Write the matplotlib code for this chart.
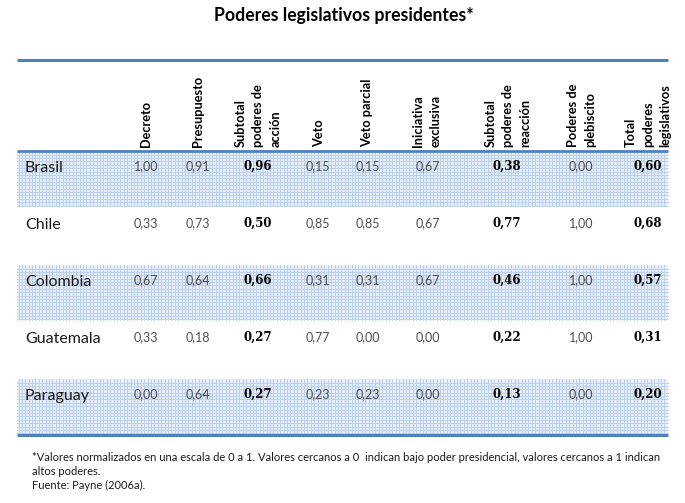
import matplotlib
matplotlib.use("Agg")
import matplotlib.pyplot as plt
from matplotlib.patches import Rectangle
import numpy as np

title = "Poderes legislativos presidentes*"
countries = ["Brasil", "Chile", "Colombia", "Guatemala", "Paraguay"]
headers = ["Decreto", "Presupuesto", "Subtotal\npoderes de\nacción", "Veto",
           "Veto parcial", "Iniciativa\nexclusiva", "Subtotal\npoderes de\nreacción",
           "Poderes de\nplebiscito", "Total\npoderes\nlegislativos"]
decreto = [1.00, 0.33, 0.67, 0.33, 0.00]
presupuesto = [0.91, 0.73, 0.64, 0.18, 0.64]
subtotal_accion = [0.96, 0.50, 0.66, 0.27, 0.27]
veto = [0.15, 0.85, 0.31, 0.77, 0.23]
veto_parcial = [0.15, 0.85, 0.31, 0.00, 0.23]
iniciativa = [0.67, 0.67, 0.67, 0.00, 0.00]
subtotal_reaccion = [0.38, 0.77, 0.46, 0.22, 0.13]
plebiscito = [0.00, 1.00, 1.00, 1.00, 0.00]
total = [0.60, 0.68, 0.57, 0.31, 0.20]
bold_cols = [False, False, True, False, False, False, True, False, True]
footnote = ("*Valores normalizados en una escala de 0 a 1. Valores cercanos a 0  indican bajo poder presidencial, "
            "valores cercanos a 1 indican\naltos poderes.\nFuente: Payne (2006a).")

columns = [decreto, presupuesto, subtotal_accion, veto, veto_parcial,
           iniciativa, subtotal_reaccion, plebiscito, total]

W, H = 685, 503
fig = plt.figure(figsize=(W / 100, H / 100), dpi=100)
ax = fig.add_axes([0, 0, 1, 1])
ax.set_xlim(0, W)
ax.set_ylim(H, 0)
ax.axis("off")

font = "Lato"
x0, x1 = 17, 668
row_top = 151
row_h = 57
col_x = [146, 198, 258, 319, 367, 427, 508, 582, 648]
val_x = [146, 198, 258, 318, 368, 428, 507, 581, 648]

ax.text(W / 2 + 1, 15, title, ha="center", va="center", fontsize=12.7,
        fontweight="bold", family=font, color="black")

# top line
ax.plot([x0, x1], [60, 60], color="#4f81bd", lw=2.2, solid_capstyle="butt")

# headers
for cx, h in zip(col_x, headers):
    ax.text(cx, 147, h, rotation=90, ha="center", va="bottom", multialignment="left",
            fontsize=9.2, fontweight="bold", family=font, color="black", linespacing=1.55)

# rows
for i, c in enumerate(countries):
    top = row_top + i * row_h
    if i % 2 == 0:
        ax.add_patch(Rectangle((x0, top), x1 - x0, row_h - 2, facecolor="#e6eef9",
                               edgecolor="none", zorder=1))
        gx = np.floor(np.arange(x0 + 2, x1, 3.4)) + 0.5
        gy = np.floor(np.arange(top + 3, top + row_h - 2, 3.4)) + 0.5
        ax.vlines(gx, top, top + row_h - 2, colors="#bdd0ec", lw=0.72, zorder=1.5,
                  antialiased=False)
        ax.hlines(gy, x0, x1, colors="#bdd0ec", lw=0.72, zorder=1.5, antialiased=False)
    ax.text(25, top + 17, c, ha="left", va="center", fontsize=11.5, family=font,
            color="#1a1a1a", zorder=3)
    for j, col in enumerate(columns):
        s = f"{col[i]:.2f}".replace(".", ",")
        if bold_cols[j]:
            ax.text(val_x[j], top + 15, s, ha="center", va="center", fontsize=8.5,
                    fontweight="bold", family="DejaVu Serif", color="black", zorder=3)
        else:
            ax.text(val_x[j], top + 15, s, ha="center", va="center", fontsize=9,
                    family=font, color="#505050", zorder=3)

# lines under header and bottom
ax.plot([x0, x1], [row_top, row_top], color="#4f81bd", lw=2.0, solid_capstyle="butt", zorder=4)
ax.plot([x0, x1], [row_top + 5 * row_h - 1, row_top + 5 * row_h - 1], color="#4f81bd",
        lw=2.2, solid_capstyle="butt", zorder=4)

ax.text(32, 452, footnote, ha="left", va="top", fontsize=8, family=font,
        color="#1a1a1a", linespacing=1.35)

fig.savefig("out.png", dpi=100)
